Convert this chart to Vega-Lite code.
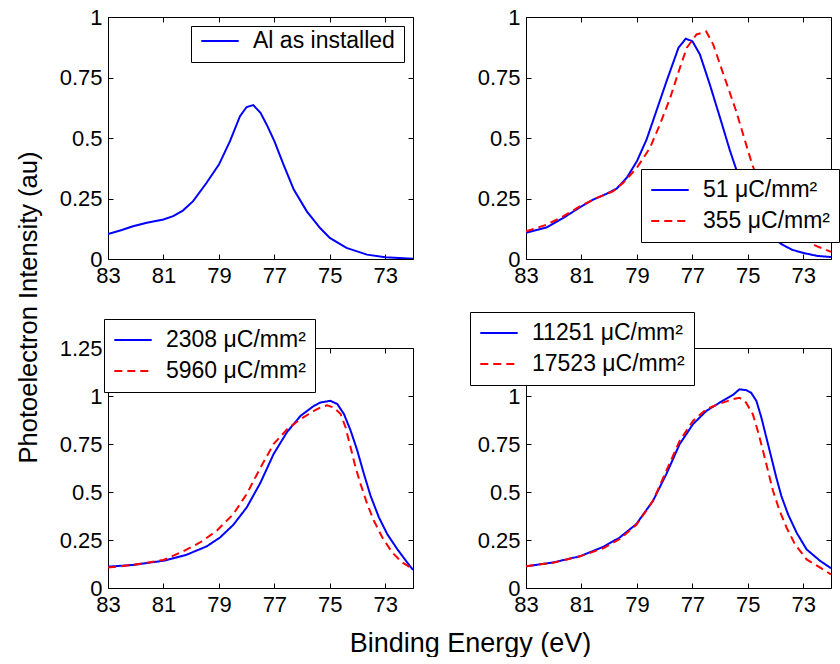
{
  "$schema": "https://vega.github.io/schema/vega-lite/v6.json",
  "padding": {"left": 15, "top": 5, "right": 0, "bottom": 0},
  "background": "white",
  "config": {
    "font": "Liberation Sans",
    "view": {"stroke": "black", "strokeWidth": 1},
    "axis": {"domain": false, "grid": false, "labelFlush": false, "labelOverlap": false, "tickColor": "black", "tickWidth": 1, "tickSize": -5, "labelFont": "Liberation Sans", "labelFontSize": 22, "labelColor": "black", "titleFont": "Liberation Sans", "titleFontWeight": "normal", "titleColor": "black"},
    "axisBottom": {"labelPadding": 11.5},
    "axisLeft": {"labelPadding": 11},
    "legend": {"orient": "none", "fillColor": "white", "strokeColor": "black", "padding": 9, "symbolType": "stroke", "symbolSize": 1400, "symbolStrokeWidth": 2, "labelFont": "Liberation Sans", "labelFontSize": 23, "labelColor": "black", "labelOffset": 13, "clipHeight": 24, "rowPadding": 7, "labelLimit": 400}
  },
  "columns": 2,
  "spacing": {"row": 89, "column": 113},
  "bounds": "flush",
  "resolve": {"scale": {"color": "independent", "strokeDash": "independent"}},
  "concat": [
    {
      "width": 305, "height": 242,
      "data": {"values": [
        {"E": 83, "I": 0.103, "s": "Al as installed"},
        {"E": 82.5, "I": 0.12, "s": "Al as installed"},
        {"E": 82.1, "I": 0.135, "s": "Al as installed"},
        {"E": 81.6, "I": 0.15, "s": "Al as installed"},
        {"E": 81.0, "I": 0.163, "s": "Al as installed"},
        {"E": 80.65, "I": 0.177, "s": "Al as installed"},
        {"E": 80.3, "I": 0.2, "s": "Al as installed"},
        {"E": 79.93, "I": 0.239, "s": "Al as installed"},
        {"E": 79.45, "I": 0.314, "s": "Al as installed"},
        {"E": 79.0, "I": 0.39, "s": "Al as installed"},
        {"E": 78.6, "I": 0.487, "s": "Al as installed"},
        {"E": 78.24, "I": 0.59, "s": "Al as installed"},
        {"E": 78.0, "I": 0.628, "s": "Al as installed"},
        {"E": 77.76, "I": 0.636, "s": "Al as installed"},
        {"E": 77.5, "I": 0.604, "s": "Al as installed"},
        {"E": 77.28, "I": 0.556, "s": "Al as installed"},
        {"E": 77.0, "I": 0.487, "s": "Al as installed"},
        {"E": 76.67, "I": 0.39, "s": "Al as installed"},
        {"E": 76.3, "I": 0.287, "s": "Al as installed"},
        {"E": 75.83, "I": 0.197, "s": "Al as installed"},
        {"E": 75.35, "I": 0.128, "s": "Al as installed"},
        {"E": 75.0, "I": 0.087, "s": "Al as installed"},
        {"E": 74.4, "I": 0.046, "s": "Al as installed"},
        {"E": 73.66, "I": 0.018, "s": "Al as installed"},
        {"E": 73.0, "I": 0.007, "s": "Al as installed"},
        {"E": 72.0, "I": 0.001, "s": "Al as installed"}
      ]},
      "layer": [
        {
          "mark": {"type": "line", "strokeWidth": 2, "clip": true},
          "encoding": {
            "x": {"field": "E", "type": "quantitative", "scale": {"domain": [72, 83], "reverse": true, "nice": false, "zero": false}, "axis": {"values": [83, 81, 79, 77, 75, 73], "title": null}},
            "y": {"field": "I", "type": "quantitative", "scale": {"domain": [0, 1], "nice": false}, "axis": {"values": [0, 0.25, 0.5, 0.75, 1], "format": ".2~f", "title": "Photoelectron Intensity (au)", "titleFontSize": 25.5, "titleX": -80, "titleY": 290, "titleAlign": "center", "titleBaseline": "middle", "titleAngle": -90}},
            "color": {"field": "s", "type": "nominal", "scale": {"domain": ["Al as installed"], "range": ["#0000ff"]}, "legend": {"title": null, "legendX": 83, "legendY": 9, "clipHeight": 12}}
          }
        },
        {
          "mark": {"type": "line", "opacity": 0},
          "encoding": {
            "x": {"field": "E", "type": "quantitative", "scale": {"domain": [72, 83], "reverse": true, "nice": false, "zero": false}, "axis": {"orient": "top", "values": [83, 81, 79, 77, 75, 73], "labels": false, "title": null}},
            "y": {"field": "I", "type": "quantitative", "scale": {"domain": [0, 1], "nice": false}, "axis": {"orient": "right", "values": [0, 0.25, 0.5, 0.75, 1], "labels": false, "title": null}}
          }
        }
      ],
      "resolve": {"axis": {"x": "independent", "y": "independent"}}
    },
    {
      "width": 305, "height": 242,
      "data": {"values": [
        {"E": 83, "I": 0.108, "s": "51 μC/mm²"},
        {"E": 82.25, "I": 0.131, "s": "51 μC/mm²"},
        {"E": 81.65, "I": 0.17, "s": "51 μC/mm²"},
        {"E": 81.05, "I": 0.214, "s": "51 μC/mm²"},
        {"E": 80.57, "I": 0.246, "s": "51 μC/mm²"},
        {"E": 80.1, "I": 0.269, "s": "51 μC/mm²"},
        {"E": 79.73, "I": 0.291, "s": "51 μC/mm²"},
        {"E": 79.37, "I": 0.335, "s": "51 μC/mm²"},
        {"E": 79.0, "I": 0.404, "s": "51 μC/mm²"},
        {"E": 78.65, "I": 0.494, "s": "51 μC/mm²"},
        {"E": 78.3, "I": 0.611, "s": "51 μC/mm²"},
        {"E": 77.93, "I": 0.735, "s": "51 μC/mm²"},
        {"E": 77.5, "I": 0.873, "s": "51 μC/mm²"},
        {"E": 77.24, "I": 0.91, "s": "51 μC/mm²"},
        {"E": 77.0, "I": 0.9, "s": "51 μC/mm²"},
        {"E": 76.73, "I": 0.846, "s": "51 μC/mm²"},
        {"E": 76.37, "I": 0.721, "s": "51 μC/mm²"},
        {"E": 76.0, "I": 0.583, "s": "51 μC/mm²"},
        {"E": 75.65, "I": 0.45, "s": "51 μC/mm²"},
        {"E": 75.3, "I": 0.33, "s": "51 μC/mm²"},
        {"E": 75.0, "I": 0.25, "s": "51 μC/mm²"},
        {"E": 74.6, "I": 0.165, "s": "51 μC/mm²"},
        {"E": 74.2, "I": 0.1, "s": "51 μC/mm²"},
        {"E": 73.8, "I": 0.062, "s": "51 μC/mm²"},
        {"E": 73.4, "I": 0.038, "s": "51 μC/mm²"},
        {"E": 73.0, "I": 0.025, "s": "51 μC/mm²"},
        {"E": 72.5, "I": 0.013, "s": "51 μC/mm²"},
        {"E": 72.0, "I": 0.008, "s": "51 μC/mm²"},
        {"E": 83, "I": 0.114, "s": "355 μC/mm²"},
        {"E": 82.25, "I": 0.142, "s": "355 μC/mm²"},
        {"E": 81.65, "I": 0.177, "s": "355 μC/mm²"},
        {"E": 81.05, "I": 0.218, "s": "355 μC/mm²"},
        {"E": 80.45, "I": 0.252, "s": "355 μC/mm²"},
        {"E": 79.85, "I": 0.28, "s": "355 μC/mm²"},
        {"E": 79.5, "I": 0.314, "s": "355 μC/mm²"},
        {"E": 79.0, "I": 0.377, "s": "355 μC/mm²"},
        {"E": 78.53, "I": 0.459, "s": "355 μC/mm²"},
        {"E": 78.17, "I": 0.556, "s": "355 μC/mm²"},
        {"E": 77.8, "I": 0.666, "s": "355 μC/mm²"},
        {"E": 77.45, "I": 0.79, "s": "355 μC/mm²"},
        {"E": 77.2, "I": 0.873, "s": "355 μC/mm²"},
        {"E": 76.85, "I": 0.928, "s": "355 μC/mm²"},
        {"E": 76.5, "I": 0.94, "s": "355 μC/mm²"},
        {"E": 76.25, "I": 0.887, "s": "355 μC/mm²"},
        {"E": 75.9, "I": 0.77, "s": "355 μC/mm²"},
        {"E": 75.42, "I": 0.611, "s": "355 μC/mm²"},
        {"E": 75.0, "I": 0.45, "s": "355 μC/mm²"},
        {"E": 74.84, "I": 0.39, "s": "355 μC/mm²"},
        {"E": 74.6, "I": 0.32, "s": "355 μC/mm²"},
        {"E": 74.3, "I": 0.245, "s": "355 μC/mm²"},
        {"E": 74.0, "I": 0.185, "s": "355 μC/mm²"},
        {"E": 73.6, "I": 0.13, "s": "355 μC/mm²"},
        {"E": 73.2, "I": 0.09, "s": "355 μC/mm²"},
        {"E": 72.86, "I": 0.074, "s": "355 μC/mm²"},
        {"E": 72.5, "I": 0.052, "s": "355 μC/mm²"},
        {"E": 72.0, "I": 0.03, "s": "355 μC/mm²"}
      ]},
      "layer": [
        {
          "mark": {"type": "line", "strokeWidth": 2, "clip": true},
          "encoding": {
            "x": {"field": "E", "type": "quantitative", "scale": {"domain": [72, 83], "reverse": true, "nice": false, "zero": false}, "axis": {"values": [83, 81, 79, 77, 75, 73], "title": null}},
            "y": {"field": "I", "type": "quantitative", "scale": {"domain": [0, 1], "nice": false}, "axis": {"values": [0, 0.25, 0.5, 0.75, 1], "format": ".2~f", "title": null}},
            "color": {"field": "s", "type": "nominal", "scale": {"domain": ["51 μC/mm²", "355 μC/mm²"], "range": ["#0000ff", "#ff0000"]}, "legend": {"title": null, "legendX": 115, "legendY": 152}},
            "strokeDash": {"field": "s", "type": "nominal", "scale": {"domain": ["51 μC/mm²", "355 μC/mm²"], "range": [[1, 0], [8, 5]]}, "legend": {"title": null, "legendX": 115, "legendY": 152}}
          }
        },
        {
          "mark": {"type": "line", "opacity": 0},
          "encoding": {
            "x": {"field": "E", "type": "quantitative", "scale": {"domain": [72, 83], "reverse": true, "nice": false, "zero": false}, "axis": {"orient": "top", "values": [83, 81, 79, 77, 75, 73], "labels": false, "title": null}},
            "y": {"field": "I", "type": "quantitative", "scale": {"domain": [0, 1], "nice": false}, "axis": {"orient": "right", "values": [0, 0.25, 0.5, 0.75, 1], "labels": false, "title": null}},
            "detail": {"field": "s", "type": "nominal"}
          }
        }
      ],
      "resolve": {"axis": {"x": "independent", "y": "independent"}}
    },
    {
      "width": 305, "height": 240,
      "data": {"values": [
        {"E": 83, "I": 0.111, "s": "2308 μC/mm²"},
        {"E": 82.1, "I": 0.12, "s": "2308 μC/mm²"},
        {"E": 81.0, "I": 0.142, "s": "2308 μC/mm²"},
        {"E": 80.17, "I": 0.173, "s": "2308 μC/mm²"},
        {"E": 79.44, "I": 0.217, "s": "2308 μC/mm²"},
        {"E": 78.96, "I": 0.263, "s": "2308 μC/mm²"},
        {"E": 78.48, "I": 0.329, "s": "2308 μC/mm²"},
        {"E": 78.0, "I": 0.419, "s": "2308 μC/mm²"},
        {"E": 77.5, "I": 0.549, "s": "2308 μC/mm²"},
        {"E": 77.03, "I": 0.697, "s": "2308 μC/mm²"},
        {"E": 76.54, "I": 0.813, "s": "2308 μC/mm²"},
        {"E": 76.06, "I": 0.896, "s": "2308 μC/mm²"},
        {"E": 75.58, "I": 0.948, "s": "2308 μC/mm²"},
        {"E": 75.34, "I": 0.966, "s": "2308 μC/mm²"},
        {"E": 74.98, "I": 0.975, "s": "2308 μC/mm²"},
        {"E": 74.73, "I": 0.958, "s": "2308 μC/mm²"},
        {"E": 74.49, "I": 0.906, "s": "2308 μC/mm²"},
        {"E": 74.25, "I": 0.82, "s": "2308 μC/mm²"},
        {"E": 74.01, "I": 0.716, "s": "2308 μC/mm²"},
        {"E": 73.77, "I": 0.594, "s": "2308 μC/mm²"},
        {"E": 73.53, "I": 0.48, "s": "2308 μC/mm²"},
        {"E": 73.23, "I": 0.368, "s": "2308 μC/mm²"},
        {"E": 72.93, "I": 0.281, "s": "2308 μC/mm²"},
        {"E": 72.57, "I": 0.203, "s": "2308 μC/mm²"},
        {"E": 72.21, "I": 0.133, "s": "2308 μC/mm²"},
        {"E": 72.0, "I": 0.094, "s": "2308 μC/mm²"},
        {"E": 83, "I": 0.107, "s": "5960 μC/mm²"},
        {"E": 82.1, "I": 0.12, "s": "5960 μC/mm²"},
        {"E": 81.0, "I": 0.146, "s": "5960 μC/mm²"},
        {"E": 80.29, "I": 0.191, "s": "5960 μC/mm²"},
        {"E": 79.68, "I": 0.237, "s": "5960 μC/mm²"},
        {"E": 79.08, "I": 0.298, "s": "5960 μC/mm²"},
        {"E": 78.48, "I": 0.385, "s": "5960 μC/mm²"},
        {"E": 78.0, "I": 0.489, "s": "5960 μC/mm²"},
        {"E": 77.5, "I": 0.627, "s": "5960 μC/mm²"},
        {"E": 77.03, "I": 0.749, "s": "5960 μC/mm²"},
        {"E": 76.54, "I": 0.827, "s": "5960 μC/mm²"},
        {"E": 76.06, "I": 0.879, "s": "5960 μC/mm²"},
        {"E": 75.58, "I": 0.922, "s": "5960 μC/mm²"},
        {"E": 75.34, "I": 0.94, "s": "5960 μC/mm²"},
        {"E": 75.1, "I": 0.952, "s": "5960 μC/mm²"},
        {"E": 74.86, "I": 0.94, "s": "5960 μC/mm²"},
        {"E": 74.61, "I": 0.906, "s": "5960 μC/mm²"},
        {"E": 74.43, "I": 0.836, "s": "5960 μC/mm²"},
        {"E": 74.25, "I": 0.732, "s": "5960 μC/mm²"},
        {"E": 74.07, "I": 0.628, "s": "5960 μC/mm²"},
        {"E": 73.89, "I": 0.541, "s": "5960 μC/mm²"},
        {"E": 73.65, "I": 0.437, "s": "5960 μC/mm²"},
        {"E": 73.41, "I": 0.35, "s": "5960 μC/mm²"},
        {"E": 73.11, "I": 0.264, "s": "5960 μC/mm²"},
        {"E": 72.75, "I": 0.185, "s": "5960 μC/mm²"},
        {"E": 72.39, "I": 0.133, "s": "5960 μC/mm²"},
        {"E": 72.0, "I": 0.099, "s": "5960 μC/mm²"}
      ]},
      "layer": [
        {
          "mark": {"type": "line", "strokeWidth": 2, "clip": true},
          "encoding": {
            "x": {"field": "E", "type": "quantitative", "scale": {"domain": [72, 83], "reverse": true, "nice": false, "zero": false}, "axis": {"values": [83, 81, 79, 77, 75, 73], "title": "Binding Energy (eV)", "titleFontSize": 27, "titleX": 362, "titleY": 55, "titleAlign": "center", "titleBaseline": "middle"}},
            "y": {"field": "I", "type": "quantitative", "scale": {"domain": [0, 1.25], "nice": false}, "axis": {"values": [0, 0.25, 0.5, 0.75, 1, 1.25], "format": ".2~f", "title": null}},
            "color": {"field": "s", "type": "nominal", "scale": {"domain": ["2308 μC/mm²", "5960 μC/mm²"], "range": ["#0000ff", "#ff0000"]}, "legend": {"title": null, "legendX": -4, "legendY": -29}},
            "strokeDash": {"field": "s", "type": "nominal", "scale": {"domain": ["2308 μC/mm²", "5960 μC/mm²"], "range": [[1, 0], [8, 5]]}, "legend": {"title": null, "legendX": -4, "legendY": -29}}
          }
        },
        {
          "mark": {"type": "line", "opacity": 0},
          "encoding": {
            "x": {"field": "E", "type": "quantitative", "scale": {"domain": [72, 83], "reverse": true, "nice": false, "zero": false}, "axis": {"orient": "top", "values": [83, 81, 79, 77, 75, 73], "labels": false, "title": null}},
            "y": {"field": "I", "type": "quantitative", "scale": {"domain": [0, 1.25], "nice": false}, "axis": {"orient": "right", "values": [0, 0.25, 0.5, 0.75, 1, 1.25], "labels": false, "title": null}},
            "detail": {"field": "s", "type": "nominal"}
          }
        }
      ],
      "resolve": {"axis": {"x": "independent", "y": "independent"}}
    },
    {
      "width": 305, "height": 240,
      "data": {"values": [
        {"E": 83, "I": 0.113, "s": "11251 μC/mm²"},
        {"E": 82.02, "I": 0.133, "s": "11251 μC/mm²"},
        {"E": 81.06, "I": 0.165, "s": "11251 μC/mm²"},
        {"E": 80.2, "I": 0.215, "s": "11251 μC/mm²"},
        {"E": 79.62, "I": 0.263, "s": "11251 μC/mm²"},
        {"E": 79.02, "I": 0.333, "s": "11251 μC/mm²"},
        {"E": 78.42, "I": 0.454, "s": "11251 μC/mm²"},
        {"E": 77.94, "I": 0.593, "s": "11251 μC/mm²"},
        {"E": 77.46, "I": 0.749, "s": "11251 μC/mm²"},
        {"E": 76.98, "I": 0.853, "s": "11251 μC/mm²"},
        {"E": 76.5, "I": 0.922, "s": "11251 μC/mm²"},
        {"E": 76.02, "I": 0.965, "s": "11251 μC/mm²"},
        {"E": 75.54, "I": 1.005, "s": "11251 μC/mm²"},
        {"E": 75.3, "I": 1.035, "s": "11251 μC/mm²"},
        {"E": 75.05, "I": 1.03, "s": "11251 μC/mm²"},
        {"E": 74.88, "I": 1.017, "s": "11251 μC/mm²"},
        {"E": 74.69, "I": 0.974, "s": "11251 μC/mm²"},
        {"E": 74.51, "I": 0.887, "s": "11251 μC/mm²"},
        {"E": 74.33, "I": 0.783, "s": "11251 μC/mm²"},
        {"E": 74.15, "I": 0.679, "s": "11251 μC/mm²"},
        {"E": 73.97, "I": 0.574, "s": "11251 μC/mm²"},
        {"E": 73.79, "I": 0.479, "s": "11251 μC/mm²"},
        {"E": 73.55, "I": 0.384, "s": "11251 μC/mm²"},
        {"E": 73.24, "I": 0.288, "s": "11251 μC/mm²"},
        {"E": 72.88, "I": 0.201, "s": "11251 μC/mm²"},
        {"E": 72.39, "I": 0.141, "s": "11251 μC/mm²"},
        {"E": 72.0, "I": 0.103, "s": "11251 μC/mm²"},
        {"E": 83, "I": 0.113, "s": "17523 μC/mm²"},
        {"E": 82.02, "I": 0.132, "s": "17523 μC/mm²"},
        {"E": 81.06, "I": 0.165, "s": "17523 μC/mm²"},
        {"E": 80.2, "I": 0.208, "s": "17523 μC/mm²"},
        {"E": 79.62, "I": 0.255, "s": "17523 μC/mm²"},
        {"E": 79.02, "I": 0.329, "s": "17523 μC/mm²"},
        {"E": 78.42, "I": 0.454, "s": "17523 μC/mm²"},
        {"E": 77.94, "I": 0.61, "s": "17523 μC/mm²"},
        {"E": 77.46, "I": 0.766, "s": "17523 μC/mm²"},
        {"E": 76.98, "I": 0.87, "s": "17523 μC/mm²"},
        {"E": 76.5, "I": 0.931, "s": "17523 μC/mm²"},
        {"E": 76.02, "I": 0.96, "s": "17523 μC/mm²"},
        {"E": 75.54, "I": 0.983, "s": "17523 μC/mm²"},
        {"E": 75.3, "I": 0.991, "s": "17523 μC/mm²"},
        {"E": 75.06, "I": 0.965, "s": "17523 μC/mm²"},
        {"E": 74.82, "I": 0.905, "s": "17523 μC/mm²"},
        {"E": 74.64, "I": 0.818, "s": "17523 μC/mm²"},
        {"E": 74.45, "I": 0.714, "s": "17523 μC/mm²"},
        {"E": 74.27, "I": 0.609, "s": "17523 μC/mm²"},
        {"E": 74.09, "I": 0.505, "s": "17523 μC/mm²"},
        {"E": 73.85, "I": 0.401, "s": "17523 μC/mm²"},
        {"E": 73.6, "I": 0.314, "s": "17523 μC/mm²"},
        {"E": 73.3, "I": 0.228, "s": "17523 μC/mm²"},
        {"E": 72.88, "I": 0.149, "s": "17523 μC/mm²"},
        {"E": 72.39, "I": 0.106, "s": "17523 μC/mm²"},
        {"E": 72.0, "I": 0.071, "s": "17523 μC/mm²"}
      ]},
      "layer": [
        {
          "mark": {"type": "line", "strokeWidth": 2, "clip": true},
          "encoding": {
            "x": {"field": "E", "type": "quantitative", "scale": {"domain": [72, 83], "reverse": true, "nice": false, "zero": false}, "axis": {"values": [83, 81, 79, 77, 75, 73], "title": null}},
            "y": {"field": "I", "type": "quantitative", "scale": {"domain": [0, 1.25], "nice": false}, "axis": {"values": [0, 0.25, 0.5, 0.75, 1, 1.25], "format": ".2~f", "title": null}},
            "color": {"field": "s", "type": "nominal", "scale": {"domain": ["11251 μC/mm²", "17523 μC/mm²"], "range": ["#0000ff", "#ff0000"]}, "legend": {"title": null, "legendX": -56, "legendY": -36}},
            "strokeDash": {"field": "s", "type": "nominal", "scale": {"domain": ["11251 μC/mm²", "17523 μC/mm²"], "range": [[1, 0], [8, 5]]}, "legend": {"title": null, "legendX": -56, "legendY": -36}}
          }
        },
        {
          "mark": {"type": "line", "opacity": 0},
          "encoding": {
            "x": {"field": "E", "type": "quantitative", "scale": {"domain": [72, 83], "reverse": true, "nice": false, "zero": false}, "axis": {"orient": "top", "values": [83, 81, 79, 77, 75, 73], "labels": false, "title": null}},
            "y": {"field": "I", "type": "quantitative", "scale": {"domain": [0, 1.25], "nice": false}, "axis": {"orient": "right", "values": [0, 0.25, 0.5, 0.75, 1, 1.25], "labels": false, "title": null}},
            "detail": {"field": "s", "type": "nominal"}
          }
        }
      ],
      "resolve": {"axis": {"x": "independent", "y": "independent"}}
    }
  ]
}
